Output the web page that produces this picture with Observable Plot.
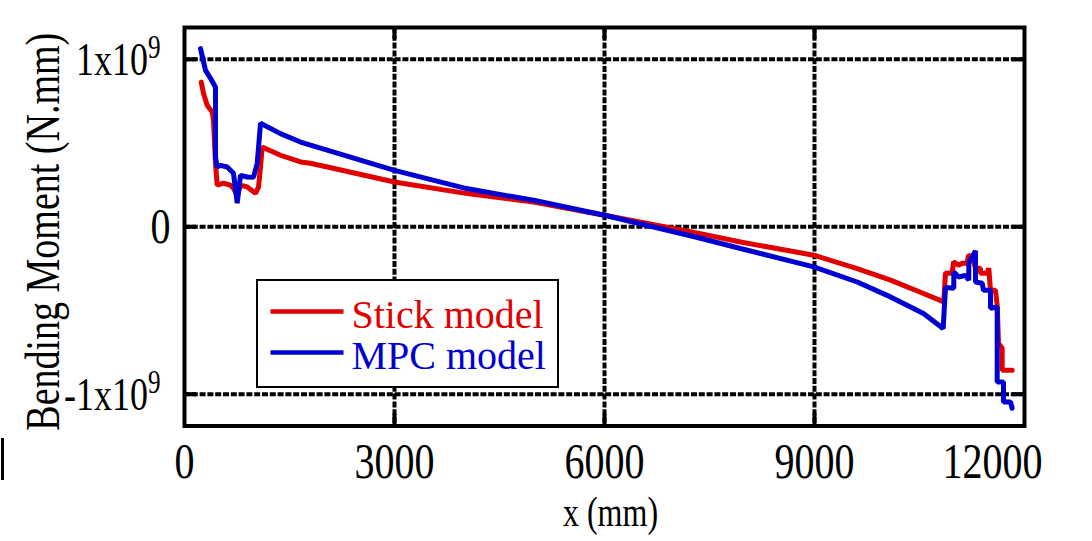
<!DOCTYPE html>
<html><head><meta charset="utf-8">
<script src="https://cdn.jsdelivr.net/npm/d3@7"></script>
<script src="https://cdn.jsdelivr.net/npm/@observablehq/plot@0.6"></script>
<style>
body{margin:0;background:#fff;}
#wrap{position:relative;width:1092px;height:541px;overflow:hidden;font-family:"Liberation Serif",serif;background:#fff;}
#legend{position:absolute;left:256px;top:279px;width:299px;height:105px;border:2.5px solid #000;background:#fff;}
#legend svg{position:absolute;left:0;top:0;}
#bar{position:absolute;left:1px;top:438px;width:2.5px;height:42px;background:#000;}
</style></head>
<body><div id="wrap"><div id="chart"></div><div id="legend"></div><div id="bar"></div></div>
<script>
// ---- data (x in mm, bending moment in units of 1e9 N.mm) ----
const seriesNames = ["Stick model", "MPC model"];
const seriesColors = ["#e00000", "#0000d2"];
const xStick = [239,271,324,396,414,443,467,557,657,700,753,800,896,1014,1057,1086,1110,1371,1657,1800,3000,4038,4986,6000,7300,7943,8990,9610,10086,10557,10847,10871,10967,10986,11057,11110,11181,11200,11253,11300,11371,11371,11467,11490,11514,11586,11610,11629,11681,11681,11824];
const yStick = [0.864,0.797,0.725,0.685,0.636,0.379,0.248,0.260,0.248,0.230,0.188,0.248,0.238,0.200,0.236,0.357,0.476,0.427,0.387,0.379,0.267,0.198,0.148,0.069,-0.035,-0.091,-0.170,-0.250,-0.319,-0.399,-0.449,-0.276,-0.278,-0.210,-0.230,-0.218,-0.218,-0.170,-0.180,-0.248,-0.248,-0.278,-0.278,-0.248,-0.379,-0.379,-0.469,-0.696,-0.725,-0.857,-0.857];
const xMPC = [229,300,371,443,443,467,514,610,700,753,800,896,986,1039,1086,1371,1657,1800,3000,4029,4986,6000,7300,7943,8990,9610,10086,10557,10838,10871,10990,10990,11061,11157,11204,11204,11300,11300,11396,11414,11514,11514,11610,11610,11700,11700,11800,11824];
const yMPC = [1.064,0.934,0.887,0.833,0.415,0.357,0.367,0.357,0.319,0.140,0.307,0.297,0.296,0.379,0.618,0.556,0.506,0.487,0.337,0.228,0.158,0.069,-0.061,-0.130,-0.240,-0.330,-0.419,-0.518,-0.608,-0.363,-0.367,-0.270,-0.300,-0.290,-0.319,-0.218,-0.144,-0.330,-0.337,-0.379,-0.379,-0.487,-0.479,-0.927,-0.927,-1.046,-1.046,-1.084];
const xTicks = [0, 3000, 6000, 9000, 12000];
const yTicks = [-1e9, 0, 1e9];
const xGrid = [3000, 6000, 9000];
const yGrid = [-1e9, 0, 1e9];
const xLabel = "x (mm)";
const yLabel = "Bending Moment (N.mm)";

// ---- build tables ----
const stick = xStick.map((x, i) => ({x, y: yStick[i] * 1e9, s: seriesNames[0]}));
const mpc = xMPC.map((x, i) => ({x, y: yMPC[i] * 1e9, s: seriesNames[1]}));

const W = 1092, H = 541, mL = 184, mR = 68, mT = 27, mB = 115.5;
const pw = W - mL - mR, ph = H - mT - mB, tk = 12;
const dash = "6,1.8";
const yFmt = d => d === 0 ? "0" : (d < 0 ? "-" : "") + "1x10^9";

const plot = Plot.plot({
  width: W, height: H,
  marginLeft: mL, marginRight: mR, marginTop: mT, marginBottom: mB,
  style: {fontFamily: "Liberation Serif", fontSize: "40px", color: "#000", background: "transparent", overflow: "visible"},
  x: {domain: [0, 12000], ticks: xTicks, tickSize: 0, tickPadding: 20, tickFormat: d => String(d), label: null},
  y: {domain: [-1.19e9, 1.19e9], ticks: yTicks, tickSize: 0, tickPadding: 14, tickFormat: yFmt, label: null},
  marks: [
    Plot.ruleX(xGrid, {x: d => d, stroke: "#000", strokeWidth: 4, strokeDasharray: dash}),
    Plot.ruleY(yGrid, {y: d => d, stroke: "#000", strokeWidth: 4, strokeDasharray: dash}),
    // inward tick marks on all four sides
    Plot.ruleX(xGrid, {x: d => d, stroke: "#000", strokeWidth: 4, insetBottom: ph - tk}),
    Plot.ruleX(xGrid, {x: d => d, stroke: "#000", strokeWidth: 4, insetTop: ph - tk}),
    Plot.ruleY(yGrid, {y: d => d, stroke: "#000", strokeWidth: 4, insetRight: pw - tk}),
    Plot.ruleY(yGrid, {y: d => d, stroke: "#000", strokeWidth: 4, insetLeft: pw - tk}),
    Plot.line(stick, {x: "x", y: "y", stroke: seriesColors[0], strokeWidth: 5, strokeLinejoin: "miter"}),
    Plot.line(mpc, {x: "x", y: "y", stroke: seriesColors[1], strokeWidth: 5, strokeLinejoin: "miter"}),
    Plot.frame({stroke: "#000", strokeWidth: 4}),
    Plot.text([xLabel], {frameAnchor: "bottom", dx: 6, dy: 97, fontSize: 32, fill: "#000"}),
    Plot.text([yLabel], {frameAnchor: "left", dx: -141, dy: 5, rotate: -90, textAnchor: "middle", fontSize: 38, fill: "#000"})
  ]
});
document.getElementById("chart").appendChild(plot);

const SVGNS = "http://www.w3.org/2000/svg";
function stretch(t, s) {
  const bb = t.getBBox();
  const cy = bb.y + bb.height / 2;
  const tr = t.getAttribute("transform") || "";
  t.setAttribute("transform", `${tr} translate(0,${cy}) scale(1,${s}) translate(0,${-cy})`);
}
const xStr = xTicks.map(String);
const yStr = yTicks.map(yFmt);
const texts = Array.from(plot.querySelectorAll("text"));
texts.forEach(t => {
  const c = t.textContent.trim();
  if (xStr.includes(c)) {
    if (c === "12000") t.setAttribute("x", (+t.getAttribute("x") || 0) - 32);
    stretch(t, 1.25);
  } else if (yStr.includes(c)) {
    t.setAttribute("font-size", 36);
    if (c.includes("^9")) {
      t.textContent = c.replace("^9", "");
      const sup = document.createElementNS(SVGNS, "tspan");
      sup.setAttribute("dy", "-0.5em");
      sup.setAttribute("font-size", "0.7em");
      sup.textContent = "9";
      t.appendChild(sup);
      t.setAttribute("x", (+t.getAttribute("x") || 0) - 10);
    }
    stretch(t, 1.3);
  } else if (c === xLabel) {
    stretch(t, 1.3);
  } else if (c === yLabel) {
    stretch(t, 1.25);
  }
});

// legend
const lg = d3.select("#legend").append("svg").attr("width", 299).attr("height", 105);
seriesNames.forEach((name, i) => {
  const cy = 30.5 + i * 41;
  lg.append("line").attr("x1", 12.5).attr("x2", 85.5).attr("y1", cy).attr("y2", cy)
    .attr("stroke", seriesColors[i]).attr("stroke-width", 4.5);
  lg.append("text").attr("x", 93.5).attr("y", cy + 16)
    .attr("font-family", "Liberation Serif").attr("font-size", 40)
    .attr("fill", seriesColors[i]).text(name);
});
</script></body></html>
